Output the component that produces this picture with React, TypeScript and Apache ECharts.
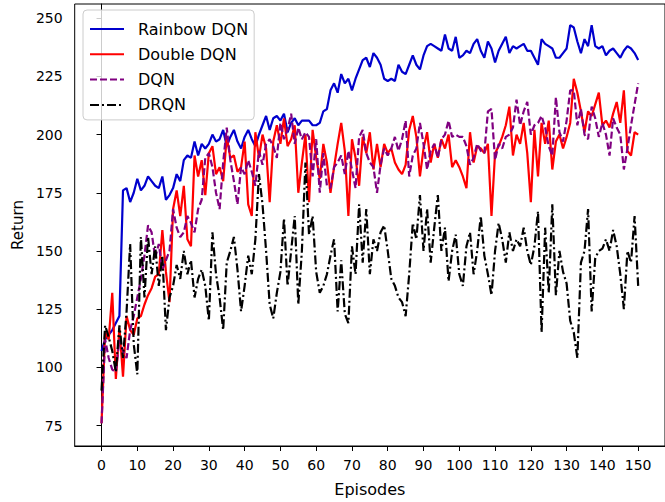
import React, { useEffect, useRef } from "react";
import * as echarts from "echarts";

const FONT = "DejaVu Sans";

const seriesNames = ["Rainbow DQN", "Double DQN", "DQN", "DRQN"];
const xTicks = [0, 10, 20, 30, 40, 50, 60, 70, 80, 90, 100, 110, 120, 130, 140, 150];
const yTicks = [75, 100, 125, 150, 175, 200, 225, 250];

const rainbowDQN = [
  107, 112, 114, 116, 119, 122, 176, 177, 171, 175,
  181, 176, 178, 182, 180, 178, 177, 182, 172, 174,
  177, 183, 180, 189, 191, 190, 197, 191, 196, 194,
  196, 200, 197, 198, 202, 195, 199, 202, 197, 194,
  199, 202, 198, 195, 200, 204, 208, 202, 207, 208,
  206, 209, 201, 205, 207, 204, 206, 206, 206, 204,
  204, 205, 210, 211, 219, 222, 218, 226, 222, 224,
  219, 224, 228, 232, 233, 229, 235, 233, 230, 224,
  223, 224, 223, 230, 227, 226, 230, 234, 230, 228,
  234, 238, 239, 238, 237, 236, 243, 237, 236, 242,
  233, 234, 236, 235, 239, 241, 236, 233, 240, 237,
  231, 236, 239, 242, 235, 238, 237, 238, 239, 236,
  236, 233, 230, 241, 239, 238, 237, 233, 233, 235,
  237, 247, 246, 240, 235, 241, 238, 247, 238, 237,
  238, 234, 236, 237, 235, 233, 236, 238, 237, 235,
  232,
];

const doubleDQN = [
  76, 115, 112, 132, 95, 117, 96, 122, 116, 114,
  121, 122, 127, 131, 134, 139, 140, 159, 141, 128,
  168, 176, 165, 178, 155, 152, 191, 182, 189, 174,
  192, 195, 183, 186, 180, 199, 190, 191, 184, 186,
  197, 170, 165, 201, 190, 200, 194, 171, 197, 204,
  196, 207, 195, 198, 204, 175, 188, 200, 171, 202,
  190, 181, 196, 188, 175, 186, 196, 205, 193, 165,
  198, 190, 178, 199, 192, 201, 185, 196, 186, 196,
  192, 194, 188, 185, 183, 187, 202, 208, 199, 182,
  194, 201, 188, 196, 190, 198, 194, 200, 186, 189,
  186, 182, 177, 201, 188, 195, 194, 192, 196, 165,
  192, 195, 199, 204, 212, 191, 200, 196, 205, 192,
  171, 202, 182, 205, 196, 206, 185, 197, 200, 194,
  199, 205, 224, 218, 210, 201, 210, 208, 213, 218,
  204, 206, 203, 209, 214, 205, 219, 193, 191, 201,
  200,
];

const dqn = [
  76, 112, 104, 99, 98, 112, 107, 104, 116, 122,
  130, 138, 148, 161, 158, 147, 153, 142, 146, 150,
  168, 160, 156, 158, 165, 162, 158, 168, 172, 190,
  192, 186, 175, 168, 188, 203, 189, 180, 170, 186,
  183, 189, 184, 178, 193, 187, 196, 198, 195, 190,
  205, 198, 202, 209, 196, 203, 198, 201, 199, 182,
  198, 175, 192, 178, 177, 186, 188, 191, 183, 193,
  185, 177, 199, 202, 192, 188, 186, 175, 187, 194,
  191, 194, 199, 193, 198, 206, 182, 191, 194, 205,
  196, 185, 193, 196, 190, 198, 200, 206, 199, 200,
  199, 199, 195, 187, 190, 196, 193, 192, 210, 211,
  189, 196, 194, 199, 200, 203, 215, 204, 210, 214,
  200, 204, 205, 208, 203, 195, 191, 216, 201, 197,
  206, 219, 219, 204, 211, 200, 198, 212, 207, 199,
  205, 200, 191, 207, 203, 200, 185, 194, 204, 213,
  222,
];

const drqn = [
  90, 118, 113, 107, 98, 118, 104, 124, 153, 110,
  97, 156, 130, 156, 140, 152, 135, 148, 116, 130,
  135, 144, 138, 150, 140, 146, 130, 138, 142, 135,
  120, 158, 140, 130, 116, 145, 150, 156, 142, 124,
  135, 148, 140, 155, 183, 170, 150, 127, 121, 132,
  141, 164, 135, 150, 165, 127, 150, 188, 157, 165,
  141, 132, 135, 140, 148, 155, 124, 146, 123, 119,
  152, 140, 170, 145, 168, 140, 155, 150, 158, 161,
  150, 138, 135, 130, 128, 122, 140, 162, 155, 174,
  150, 168, 145, 160, 174, 150, 160, 137, 150, 157,
  140, 135, 152, 158, 140, 150, 165, 148, 140, 131,
  150, 162, 155, 145, 158, 150, 155, 152, 160, 150,
  144, 152, 167, 115, 160, 132, 170, 131, 150, 141,
  136, 120, 115, 104, 145, 150, 168, 124, 147, 150,
  151, 155, 150, 159, 152, 140, 125, 150, 145, 165,
  135,
];

const toPairs = (arr: number[]) => arr.map((v, i) => [i, v]);

export default function App() {
  const ref = useRef<HTMLDivElement>(null);
  useEffect(() => {
    if (!ref.current) return;
    const chart = echarts.init(ref.current, undefined, { renderer: "svg" });
    const colors = ["#0000cd", "#ff0000", "#800080", "#000000"];
    const dashes: any[] = ["solid", "solid", [7, 3], [9, 3, 2, 3]];
    const datas = [rainbowDQN, doubleDQN, dqn, drqn];
    chart.setOption({
      animation: false,
      backgroundColor: "#ffffff",
      textStyle: { fontFamily: FONT },
      grid: {
        left: 74.7,
        right: -5.4,
        top: 4,
        bottom: 54.5,
        show: true,
        borderColor: "#000",
        borderWidth: 1,
        containLabel: false,
      },
      legend: {
        orient: "vertical",
        left: 83,
        top: 10,
        padding: [11, 6, 7, 6],
        itemWidth: 34,
        itemHeight: 14,
        itemGap: 9.3,
        borderColor: "#cccccc",
        borderWidth: 1,
        borderRadius: 4,
        backgroundColor: "rgba(255,255,255,0.8)",
        itemStyle: { opacity: 0 },
        textStyle: { fontFamily: FONT, fontSize: 16, color: "#000", padding: [0, 0, 0, 9] },
        data: seriesNames,
      },
      xAxis: {
        type: "value",
        min: -7.5,
        max: 157.5,
        name: "Episodes",
        nameLocation: "middle",
        nameGap: 35,
        nameTextStyle: { fontFamily: FONT, fontSize: 16, color: "#000" },
        axisLine: { show: true, lineStyle: { color: "#000", width: 1 } },
        axisTick: { show: true, length: 5, lineStyle: { color: "#000" }, customValues: xTicks },
        axisLabel: { fontFamily: FONT, fontSize: 14, color: "#000", margin: 12, customValues: xTicks },
        splitLine: { show: false },
      },
      yAxis: {
        type: "value",
        min: 66.2,
        max: 256.1,
        name: "Return",
        nameLocation: "middle",
        nameGap: 48,
        nameRotate: 90,
        nameTextStyle: { fontFamily: FONT, fontSize: 15, color: "#000" },
        axisLine: { show: true, lineStyle: { color: "#000", width: 1 } },
        axisTick: { show: true, length: 5, lineStyle: { color: "#000" }, customValues: yTicks },
        axisLabel: { fontFamily: FONT, fontSize: 14, color: "#000", margin: 12, customValues: yTicks },
        splitLine: { show: false },
      },
      series: seriesNames.map((name, k) => ({
        name,
        type: "line",
        data: toPairs(datas[k]),
        symbol: "none",
        showSymbol: false,
        color: colors[k],
        lineStyle: { color: colors[k], width: 2.2, type: dashes[k] },
      })),
    });
    return () => chart.dispose();
  }, []);
  return (
    <div
      ref={ref}
      style={{ position: "fixed", left: 0, top: 0, width: 665, height: 502, background: "#fff" }}
    />
  );
}
